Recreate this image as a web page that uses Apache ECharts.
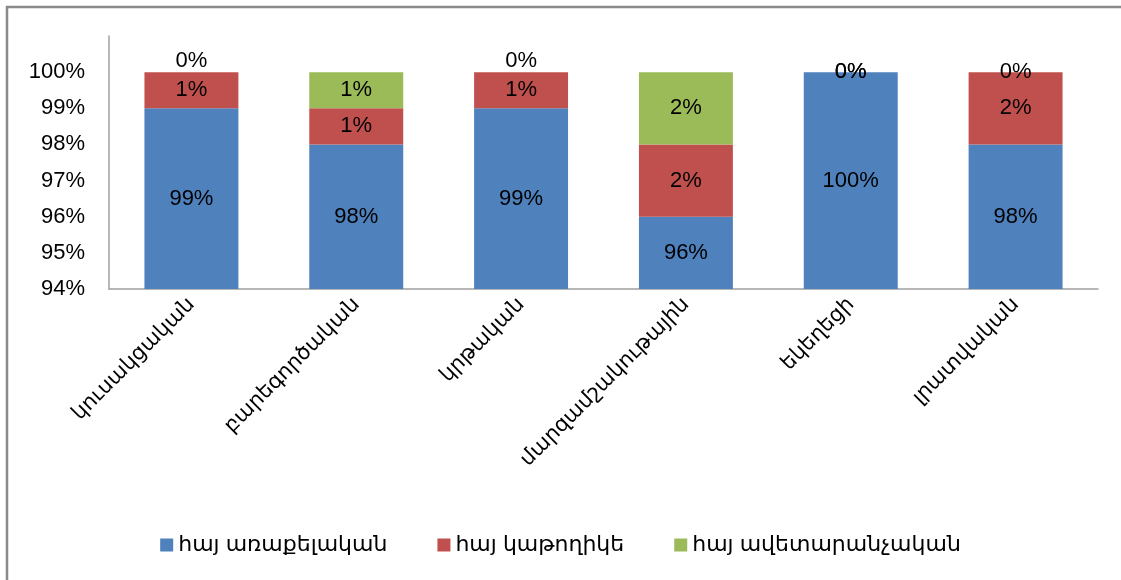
<!DOCTYPE html>
<html>
<head>
<meta charset="utf-8">
<script src="https://cdn.jsdelivr.net/npm/echarts@6/dist/echarts.min.js"></script>
<style>
html,body{margin:0;padding:0;background:#fff;}
#c{width:1121px;height:580px;}
</style>
</head>
<body>
<div id="c"></div>
<script>
const categories = ['կուսակցական','բարեգործական','կրթական','մարզամշակութային','եկեղեցի','լրատվական'];
const seriesNames = ['հայ առաքելական','հայ կաթողիկե','հայ ավետարանչական'];
const apostolic = [99, 98, 99, 96, 100, 98];
const catholic = [1, 1, 1, 2, 0, 2];
const evangelical = [0, 1, 0, 2, 0, 0];
const yTicks = [94, 95, 96, 97, 98, 99, 100, 101];

const colors = ['#4F81BD', '#C0504D', '#9BBB59'];
const FONT = '"Liberation Sans", "DejaVu Sans", sans-serif';
// category indexes whose zero top label sits above the bar (as in the reference)
const zeroAbove = [0, 2];

function items(vals, isTop) {
  return vals.map((v, i) => {
    if (isTop && v === 0 && zeroAbove.includes(i)) {
      return { value: v, label: { position: 'top', distance: 0 } };
    }
    return { value: v };
  });
}

const labelStyle = {
  show: true,
  position: 'inside',
  formatter: p => p.value + '%',
  color: '#000',
  fontSize: 22,
  fontFamily: FONT
};

const chart = echarts.init(document.getElementById('c'), null, { renderer: 'canvas' });
chart.setOption({
  animation: false,
  backgroundColor: '#fff',
  color: colors,
  graphic: [{
    type: 'polyline',
    shape: { points: [[7, 580], [7, 7], [1121, 7]] },
    style: { stroke: '#8a8a8a', lineWidth: 2.5, fill: null },
    silent: true
  }],
  grid: { left: 109, right: 23, top: 36, bottom: 291, containLabel: false, outerBoundsMode: 'none' },
  legend: {
    bottom: 19,
    left: 'center',
    itemWidth: 13,
    itemHeight: 13,
    itemGap: 50,
    icon: 'rect',
    textStyle: { color: '#000', fontSize: 22, fontFamily: FONT },
    data: seriesNames
  },
  xAxis: {
    type: 'category',
    data: categories,
    axisLine: { lineStyle: { color: '#a0a0a0', width: 1.5 } },
    axisTick: { show: false },
    axisLabel: { rotate: 45, margin: 12, color: '#000', fontSize: 21, fontFamily: FONT, interval: 0 }
  },
  yAxis: {
    type: 'value',
    min: yTicks[0],
    max: yTicks[yTicks.length - 1],
    interval: 1,
    splitLine: { show: false },
    axisLine: { show: true, lineStyle: { color: '#a0a0a0', width: 1.5 } },
    axisTick: { show: false },
    axisLabel: {
      margin: 24,
      color: '#000',
      fontSize: 22,
      fontFamily: FONT,
      formatter: v => (v === yTicks[yTicks.length - 1] ? '' : v + '%')
    }
  },
  series: [
    { name: seriesNames[0], type: 'bar', stack: 's', barCategoryGap: '43%', data: items(apostolic, false), label: labelStyle },
    { name: seriesNames[1], type: 'bar', stack: 's', data: items(catholic, false), label: labelStyle },
    { name: seriesNames[2], type: 'bar', stack: 's', data: items(evangelical, true), label: labelStyle }
  ]
});
</script>
</body>
</html>
